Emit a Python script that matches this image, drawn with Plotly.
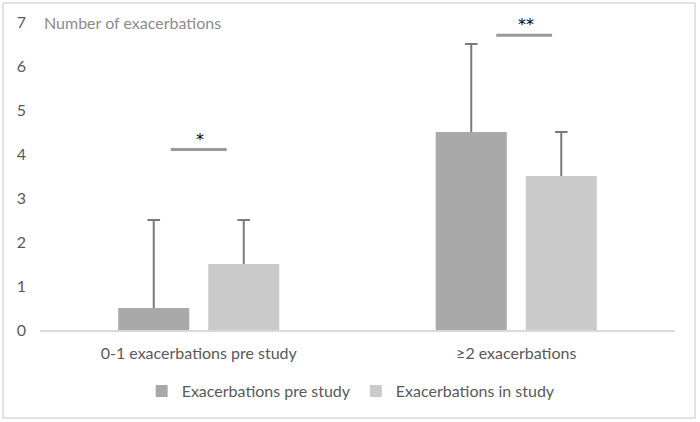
import plotly.graph_objects as go

# data
categories = ["0-1 exacerbations pre study", "≥2 exacerbations"]
pre_study = [0.5, 4.5]
pre_study_err = [2.0, 2.0]
in_study = [1.5, 3.5]
in_study_err = [1.0, 1.0]
y_ticks = [0, 1, 2, 3, 4, 5, 6, 7]
# significance bars above each category
sig_level = [4.1, 6.7]
sig_label = ["*", "**"]
sig_offset = [0.0, 0.025]

FONT = "Lato"
TXT = "#595959"
ERR = "#7a7a7a"

fig = go.Figure()
series = [
    ("Exacerbations pre study", pre_study, pre_study_err, "#a9a9a9", "pre"),
    ("Exacerbations in study", in_study, in_study_err, "#cacaca", "in"),
]
for name, vals, err, col, grp in series:
    # bar with only the upward stem of the error bar
    fig.add_trace(go.Bar(
        x=categories, y=vals, name=name, offsetgroup=grp,
        marker=dict(color=col, line=dict(width=0)),
        error_y=dict(type="data", array=err, arrayminus=[0] * len(err),
                     symmetric=False, color=ERR, thickness=2, width=0),
    ))
for name, vals, err, col, grp in series:
    # cap on top of the error bar only (Excel style "plus" error bars)
    fig.add_trace(go.Scatter(
        x=categories, y=[v + e for v, e in zip(vals, err)], mode="markers",
        offsetgroup=grp, showlegend=False, hoverinfo="skip",
        marker=dict(symbol="line-ew", size=9, line=dict(color=ERR, width=2)),
    ))

# significance lines + stars
for i, (lvl, lab, off) in enumerate(zip(sig_level, sig_label, sig_offset)):
    fig.add_shape(type="line", xref="x", yref="y",
                  x0=i + off - 0.088, x1=i + off + 0.088, y0=lvl, y1=lvl,
                  line=dict(color="#999999", width=3))
    fig.add_annotation(x=i + off + 0.005, y=lvl, xref="x", yref="y",
                       text=lab, showarrow=False, yanchor="bottom", yshift=-1,
                       font=dict(family="DejaVu Sans", size=16, color="#000000"))

# y axis title sits inside the plot, top left
fig.add_annotation(x=0.003, y=7, xref="paper", yref="y", text="Number of exacerbations",
                   showarrow=False, xanchor="left", yanchor="middle",
                   font=dict(family=FONT, size=16, color="#8c8c8c"))

# chart border
fig.add_shape(type="rect", xref="paper", yref="paper",
              x0=-0.0583, x1=1.0315, y0=-0.2857, y1=1.0617,
              line=dict(color="#d9d9d9", width=1.5), fillcolor="rgba(0,0,0,0)", layer="below")

fig.update_layout(
    width=700, height=422,
    margin=dict(l=40, r=25, t=22, b=92),
    paper_bgcolor="white", plot_bgcolor="white",
    barmode="group", bargap=0.433, bargroupgap=0.211,
    scattermode="group", scattergap=0.433,
    font=dict(family=FONT, size=16, color=TXT),
    showlegend=True,
    legend=dict(orientation="h", x=0.49, xanchor="center", y=-0.198, yanchor="middle",
                font=dict(family=FONT, size=16, color=TXT), itemclick=False),
)
fig.update_xaxes(showgrid=False, showline=True, linecolor="#d9d9d9", linewidth=1.5,
                 ticks="", ticklabelstandoff=8, tickfont=dict(family=FONT, size=16, color=TXT))
fig.update_yaxes(range=[0, 7], tickvals=y_ticks, showgrid=False, zeroline=False,
                 showline=False, ticks="", ticklabelstandoff=13,
                 tickfont=dict(family=FONT, size=16, color=TXT))

fig.write_html("out.html", config={"displayModeBar": False},
               post_script="document.body.style.margin='0';")
